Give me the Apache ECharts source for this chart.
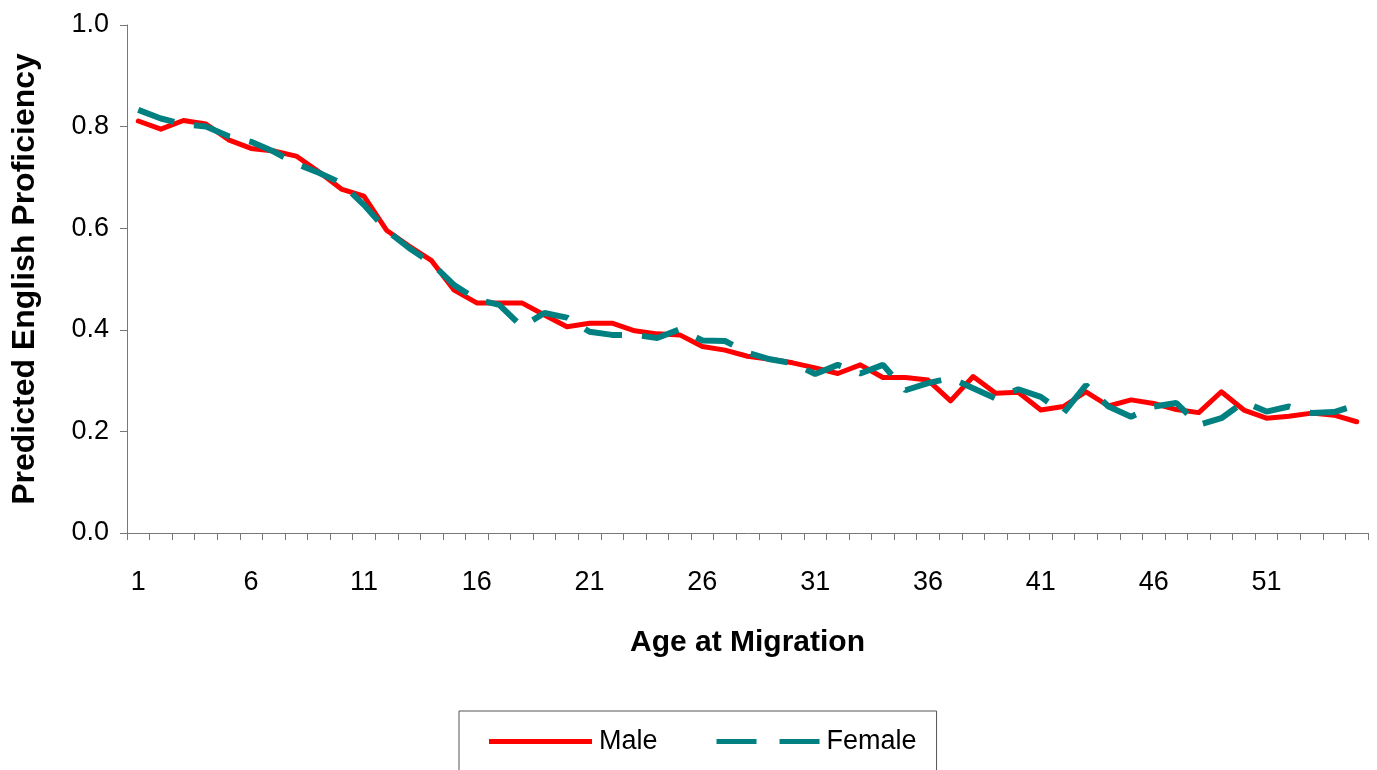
<!DOCTYPE html>
<html>
<head>
<meta charset="utf-8">
<script src="https://cdn.jsdelivr.net/npm/echarts@6/dist/echarts.min.js"></script>
<style>
  html, body { margin: 0; padding: 0; background: #fff; }
  #main { width: 1377px; height: 770px; }
</style>
</head>
<body>
<div id="main"></div>
<script>
// age at migration 1..55
const ages = [];
for (let a = 1; a <= 55; a++) ages.push(String(a));

const male = [
  0.811, 0.795, 0.812, 0.805, 0.774, 0.757, 0.752, 0.742, 0.711, 0.677,
  0.663, 0.596, 0.565, 0.536, 0.478, 0.453, 0.453, 0.453, 0.429, 0.406,
  0.413, 0.413, 0.398, 0.392, 0.390, 0.367, 0.360, 0.348, 0.342, 0.335,
  0.325, 0.314, 0.331, 0.306, 0.306, 0.301, 0.260, 0.308, 0.275, 0.277,
  0.242, 0.249, 0.278, 0.250, 0.262, 0.255, 0.243, 0.237, 0.278, 0.242,
  0.226, 0.230, 0.236, 0.232, 0.219
];

const female = [
  0.833, 0.816, 0.805, 0.800, 0.781, 0.770, 0.751, 0.727, 0.709, 0.689,
  0.646, 0.596, 0.561, 0.531, 0.488, 0.460, 0.449, 0.406, 0.433, 0.424,
  0.396, 0.390, 0.390, 0.384, 0.401, 0.379, 0.378, 0.355, 0.342, 0.334,
  0.313, 0.331, 0.314, 0.331, 0.281, 0.295, 0.305, 0.285, 0.265, 0.283,
  0.268, 0.236, 0.291, 0.249, 0.229, 0.249, 0.256, 0.213, 0.226, 0.258,
  0.239, 0.249, 0.236, 0.238, 0.252
];

const font = "'Liberation Sans', Arial, sans-serif";
const axisGray = '#777';

let chart = echarts.init(document.getElementById('main'));
chart.setOption({
  animation: false,
  backgroundColor: '#fff',
  textStyle: { fontFamily: font },
  grid: { left: 127, right: 9, top: 25, bottom: 237 },
  legend: {
    left: 459,
    top: 711,
    padding: [17, 20, 26, 30],
    itemWidth: 103,
    itemHeight: 5,
    itemGap: 59,
    borderColor: '#555',
    borderWidth: 1,
    backgroundColor: '#fff',
    textStyle: { fontSize: 27, color: '#000', fontFamily: font, padding: [0, 0, 0, 2] },
    data: [
      { name: 'Male', icon: 'path://M0,0h103v5h-103z' },
      { name: 'Female', icon: 'path://M0,0h40v5h-40z M63,0h40v5h-40z' }
    ]
  },
  xAxis: {
    type: 'category',
    data: ages,
    boundaryGap: true,
    name: 'Age at Migration',
    nameLocation: 'middle',
    nameGap: 95,
    nameTextStyle: { fontSize: 30, fontWeight: 'bold', color: '#000', fontFamily: font },
    axisLine: { lineStyle: { color: axisGray, width: 1 } },
    axisTick: { show: true, interval: 0, length: 7, lineStyle: { color: axisGray } },
    axisLabel: { interval: 4, fontSize: 27, color: '#000', margin: 36, fontFamily: font },
    splitLine: { show: false }
  },
  yAxis: {
    type: 'value',
    min: 0,
    max: 1,
    interval: 0.2,
    name: 'Predicted English Proficiency',
    nameLocation: 'middle',
    nameGap: 86,
    nameRotate: 90,
    nameTextStyle: { fontSize: 32, fontWeight: 'bold', color: '#000', fontFamily: font },
    axisLine: { show: true, lineStyle: { color: axisGray, width: 1 } },
    axisTick: { show: true, length: 7, lineStyle: { color: axisGray } },
    axisLabel: {
      fontSize: 27, color: '#000', margin: 18, fontFamily: font,
      formatter: v => v.toFixed(1)
    },
    splitLine: { show: false }
  },
  series: [
    {
      name: 'Male',
      type: 'line',
      data: male,
      symbol: 'none',
      color: '#ff0000',
      lineStyle: { color: '#ff0000', width: 5, cap: 'round', join: 'round' }
    },
    {
      name: 'Female',
      type: 'line',
      data: female,
      symbol: 'none',
      color: '#008080',
      lineStyle: { color: '#008080', width: 6, type: [38, 20] }
    }
  ]
});
</script>
</body>
</html>
